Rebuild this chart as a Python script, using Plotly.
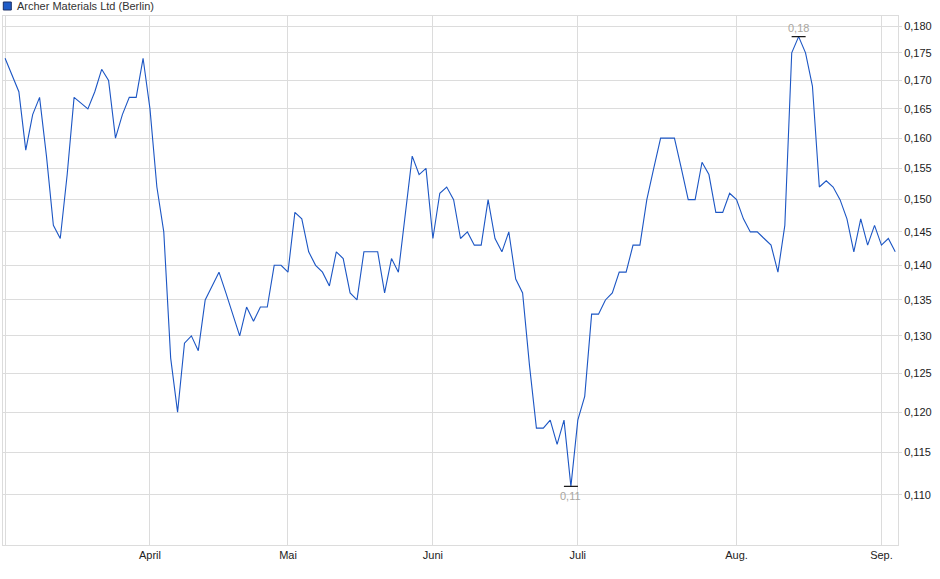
import numpy as np
import pandas as pd
import plotly.graph_objects as go

# ---- data ----
holidays = ["2025-04-18", "2025-04-21", "2025-05-01"]
dates = [d.strftime("%Y-%m-%d") for d in pd.bdate_range("2025-03-03", "2025-09-03")
         if d.strftime("%Y-%m-%d") not in holidays]

prices = [
    0.174, 0.171, 0.168, 0.158, 0.164, 0.167, 0.157, 0.146, 0.144, 0.154,
    0.167, 0.166, 0.165, 0.168, 0.172, 0.170, 0.160, 0.164, 0.167, 0.167,
    0.174, 0.165, 0.152, 0.145, 0.127, 0.120, 0.129, 0.130, 0.128, 0.135,
    0.137, 0.139, 0.136, 0.133, 0.130, 0.134, 0.132, 0.134, 0.134, 0.140,
    0.140, 0.139, 0.148, 0.147, 0.142, 0.140, 0.139, 0.137, 0.142, 0.141,
    0.136, 0.135, 0.142, 0.142, 0.142, 0.136, 0.141, 0.139, 0.148, 0.157,
    0.154, 0.155, 0.144, 0.151, 0.152, 0.150, 0.144, 0.145, 0.143, 0.143,
    0.150, 0.144, 0.142, 0.145, 0.138, 0.136, 0.126, 0.118, 0.118, 0.119,
    0.116, 0.119, 0.111, 0.119, 0.122, 0.133, 0.133, 0.135, 0.136, 0.139,
    0.139, 0.143, 0.143, 0.150, 0.155, 0.160, 0.160, 0.160, 0.155, 0.150,
    0.150, 0.156, 0.154, 0.148, 0.148, 0.151, 0.150, 0.147, 0.145, 0.145,
    0.144, 0.143, 0.139, 0.146, 0.175, 0.178, 0.175, 0.169, 0.152, 0.153,
    0.152, 0.150, 0.147, 0.142, 0.147, 0.143, 0.146, 0.143, 0.144, 0.142,
]

month_ticks = ["2025-03-03", "2025-04-01", "2025-05-02", "2025-06-02",
               "2025-07-01", "2025-08-01", "2025-09-01"]
month_labels = ["", "April", "Mai", "Juni", "Juli", "Aug.", "Sep."]

y_ticks = [0.110, 0.115, 0.120, 0.125, 0.130, 0.135, 0.140, 0.145,
           0.150, 0.155, 0.160, 0.165, 0.170, 0.175, 0.180]
y_labels = ["0,110", "0,115", "0,120", "0,125", "0,130", "0,135", "0,140", "0,145",
            "0,150", "0,155", "0,160", "0,165", "0,170", "0,175", "0,180"]

series_name = "Archer Materials Ltd (Berlin)"

# ---- figure ----
LINE = "#1c56c4"
GRID = "#dcdcdc"
FONT = "Liberation Sans, Arial, sans-serif"

imax = int(np.argmax(prices))
imin = int(np.argmin(prices))

fig = go.Figure()
fig.add_trace(go.Scatter(
    x=dates, y=prices, mode="lines",
    line=dict(color=LINE, width=1.1), showlegend=False, hoverinfo="x+y"))

fig.add_trace(go.Scatter(
    x=[dates[imax], dates[imin]], y=[prices[imax], prices[imin]],
    mode="markers",
    marker=dict(symbol="line-ew", size=10, line=dict(color="#111111", width=1.2)),
    showlegend=False, hoverinfo="skip"))

fig.add_annotation(x=dates[imax], y=np.log10(prices[imax]), xref="x", yref="y",
                   text=f"{prices[imax]:.2f}".replace(".", ","), showarrow=False,
                   yshift=9, font=dict(family=FONT, size=11, color="#a9a6a0"))
fig.add_annotation(x=dates[imin], y=np.log10(prices[imin]), xref="x", yref="y",
                   text=f"{prices[imin]:.2f}".replace(".", ","), showarrow=False,
                   yshift=-10, font=dict(family=FONT, size=11, color="#a9a6a0"))

# legend (square + text)
W, H = 895.0, 529.0
fig.add_shape(type="rect", xref="paper", yref="paper",
              x0=0.3 / W, x1=8.3 / W, y0=1 + 6 / H, y1=1 + 14 / H,
              fillcolor="#1f5cc8", line=dict(color="#1a2f66", width=1))
fig.add_annotation(xref="paper", yref="paper", x=12 / W, y=1 + 10 / H,
                   xanchor="left", yanchor="middle", showarrow=False,
                   text=series_name, font=dict(family=FONT, size=11, color="#333333"))

fig.update_layout(
    width=940, height=579,
    margin=dict(l=3, r=42, t=16, b=34, autoexpand=False),
    paper_bgcolor="white", plot_bgcolor="white",
    font=dict(family=FONT, size=11, color="#333333"),
    showlegend=False,
)
fig.update_xaxes(
    type="category", range=[-0.3, len(dates) - 1 + 0.4],
    tickmode="array", tickvals=month_ticks, ticktext=month_labels,
    showgrid=True, gridcolor=GRID, gridwidth=1,
    showline=True, linecolor=GRID, linewidth=1, mirror=True,
    ticks="", tickfont=dict(family=FONT, size=11, color="#222222"),
    zeroline=False, automargin=False,
)
fig.update_yaxes(
    type="log", side="right",
    range=[np.log10(0.10437), np.log10(0.1819)],
    tickmode="array", tickvals=y_ticks, ticktext=y_labels,
    showgrid=True, gridcolor=GRID, gridwidth=1,
    showline=True, linecolor=GRID, linewidth=1, mirror=True,
    ticks="outside", ticklen=3, tickcolor=GRID,
    tickfont=dict(family=FONT, size=11, color="#222222"),
    zeroline=False, automargin=False,
)

fig.write_html(
    "out.html",
    config={"displayModeBar": False},
    post_script="document.body.style.margin='0';document.body.style.overflow='hidden';",
)
